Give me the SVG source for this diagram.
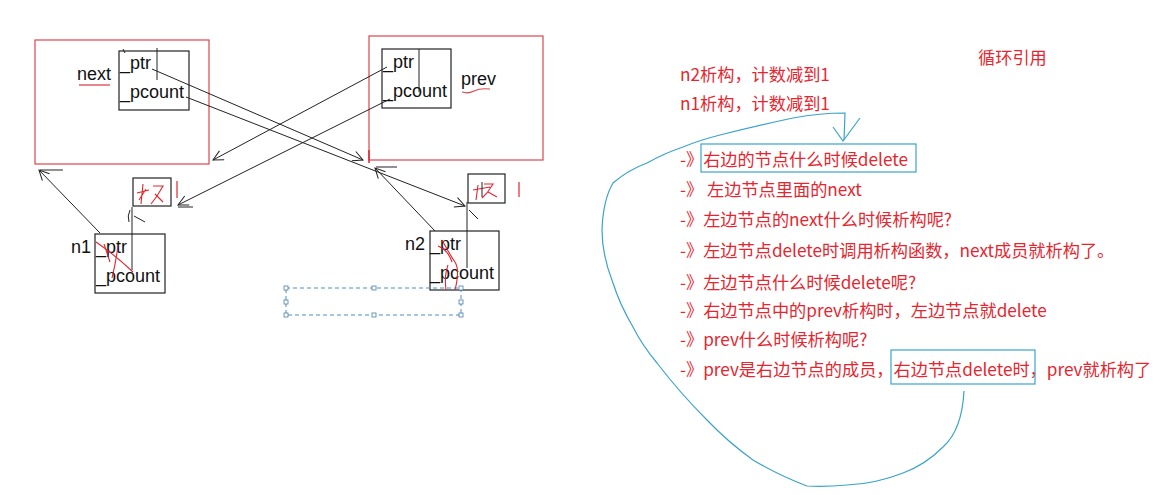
<svg xmlns="http://www.w3.org/2000/svg" width="1155" height="495" viewBox="0 0 1155 495">
<style>
.rb{fill:none;stroke:#d9464f;stroke-width:1.2}
.bb{fill:none;stroke:#222;stroke-width:1.2}
.lbl{font-family:"Liberation Sans",Arial,sans-serif;font-size:18px;fill:#111}
.ln{fill:none;stroke:#222;stroke-width:1}
.red{fill:none;stroke:#e0262f;stroke-width:1.1}
.txt{font-family:"Noto Sans CJK SC","Noto Sans",sans-serif;font-size:17.2px;fill:#e5262f}
.blue{fill:none;stroke:#3ba3c8;stroke-width:1.2}
.sel{fill:none;stroke:#4a90c0;stroke-width:1;stroke-dasharray:4 3}
.hd{fill:#fff;stroke:#4a7fa8;stroke-width:0.8}
</style>
<defs>
<marker id="ah" viewBox="0 0 12 12" refX="11" refY="6" markerWidth="12" markerHeight="12" markerUnits="userSpaceOnUse" orient="auto">
<path d="M1,1 L11,6 L1,11" fill="none" stroke="#222" stroke-width="1"/>
</marker>
</defs>
<rect width="1155" height="495" fill="#fff"/>

<g id="left-node">
<rect class="rb" x="35" y="40" width="174" height="124"/>
<rect class="bb" x="119" y="51" width="70" height="59"/>
<line class="ln" x1="157" y1="48" x2="157" y2="80"/>
<line class="ln" x1="123" y1="49" x2="125" y2="53"/>
<text class="lbl" x="120" y="69">_ptr</text>
<text class="lbl" x="120" y="98">_pcount</text>
<text class="lbl" x="77" y="80">next</text>
<path d="M79,85 L110,85" fill="none" stroke="#d9464f" stroke-width="1.3"/>
</g>

<g id="right-node">
<rect class="rb" x="369" y="36" width="174" height="124"/>
<line x1="369" y1="150" x2="369" y2="163" stroke="#e0262f" stroke-width="1.5"/>
<rect class="bb" x="382" y="49" width="69" height="59"/>
<line class="ln" x1="419" y1="49" x2="419" y2="92"/>
<text class="lbl" x="383" y="68">_ptr</text>
<text class="lbl" x="383" y="97">_pcount</text>
<text class="lbl" x="461" y="85">prev</text>
<path d="M462,92 Q468,94 474,91 T490,89" fill="none" stroke="#d9464f" stroke-width="1.2"/>
</g>

<g id="n1">
<rect class="bb" x="95" y="234" width="70" height="59"/>
<text class="lbl" x="71" y="253">n1</text>
<text class="lbl" x="96" y="253">_ptr</text>
<text class="lbl" x="96" y="282">_pcount</text>
<path class="red" d="M96,242 Q115,255 133,272"/>
<path class="red" d="M118,245 Q116,262 112,278"/>
<path class="red" d="M104,244 L110,262"/>
</g>

<g id="n1-count">
<rect class="bb" x="133" y="178" width="38" height="28"/>
<path class="red" d="M143,184 L141,204 M137,193 L149,190 M146,189 L139,200"/>
<path class="red" d="M153,186 L163,186 L157,196 L151,204 M155,194 L163,202"/>
<line x1="177" y1="181" x2="177" y2="198" stroke="#e0262f" stroke-width="1.2"/>
</g>

<g id="n2">
<rect class="bb" x="430" y="231" width="69" height="59"/>
<text class="lbl" x="405" y="250">n2</text>
<text class="lbl" x="430" y="250">_ptr</text>
<text class="lbl" x="430" y="279">_pcount</text>
<path class="red" d="M442,240 Q450,255 455,262 Q460,270 455,290"/>
<path class="red" d="M448,265 Q444,275 446,290"/>
<path class="red" d="M438,246 Q448,250 452,262"/>
</g>

<g id="n2-count">
<rect class="bb" x="468" y="174" width="37" height="29"/>
<path class="red" d="M473,190 L490,187 M478,185 L476,200 M484,184 L493,184 L487,193 L482,198 M488,192 L497,197"/>
<line x1="482" y1="182" x2="482" y2="197" stroke="#222" stroke-width="1"/>
<line x1="519" y1="182" x2="519" y2="197" stroke="#e0262f" stroke-width="1.2"/>
</g>

<g id="selection">
<rect class="sel" x="286" y="288" width="175" height="27"/>
<rect class="hd" x="284" y="286" width="4" height="4"/>
<rect class="hd" x="372" y="286" width="4" height="4"/>
<rect class="hd" x="459" y="286" width="4" height="4"/>
<rect class="hd" x="284" y="300" width="4" height="4"/>
<rect class="hd" x="459" y="300" width="4" height="4"/>
<rect class="hd" x="284" y="313" width="4" height="4"/>
<rect class="hd" x="372" y="313" width="4" height="4"/>
<rect class="hd" x="459" y="313" width="4" height="4"/>
</g>

<g id="connectors">
<line class="ln" x1="152" y1="69" x2="363" y2="160" marker-end="url(#ah)"/>
<line class="ln" x1="186" y1="97" x2="465" y2="206" marker-end="url(#ah)"/>
<line class="ln" x1="387" y1="67" x2="213" y2="160" marker-end="url(#ah)"/>
<line class="ln" x1="390" y1="99" x2="178" y2="205" marker-end="url(#ah)"/>
<line class="ln" x1="178" y1="207" x2="193" y2="207"/>
<line class="ln" x1="100" y1="233" x2="39" y2="170" marker-end="url(#ah)"/>
<line class="ln" x1="40" y1="170" x2="63" y2="170"/>
<line class="ln" x1="435" y1="231" x2="375" y2="168" marker-end="url(#ah)"/>
<line class="ln" x1="376" y1="167" x2="397" y2="167"/>
<line class="ln" x1="132" y1="270" x2="132" y2="207"/>
<path class="ln" d="M130,210 Q127,216 129,222 M134,216 L145,222"/>
<line class="ln" x1="467" y1="268" x2="467" y2="202"/>
<path class="ln" d="M469,210 L478,219"/>
</g>

<g id="notes">
<text class="txt" x="978" y="64">循环引用</text>
<text class="txt" x="680" y="81">n2析构，计数减到1</text>
<text class="txt" x="680" y="110">n1析构，计数减到1</text>
<rect class="blue" x="701" y="144" width="215" height="28"/>
<text class="txt" x="680" y="166">-》右边的节点什么时候delete</text>
<text class="txt" x="680" y="196">-》 左边节点里面的next</text>
<text class="txt" x="680" y="226">-》左边节点的next什么时候析构呢?</text>
<text class="txt" x="680" y="257">-》左边节点delete时调用析构函数，next成员就析构了。</text>
<text class="txt" x="680" y="289">-》左边节点什么时候delete呢?</text>
<text class="txt" x="680" y="317">-》右边节点中的prev析构时，左边节点就delete</text>
<text class="txt" x="680" y="346">-》prev什么时候析构呢?</text>
<text class="txt" x="680" y="376">-》prev是右边节点的成员，右边节点delete时，prev就析构了</text>
<rect class="blue" x="891" y="350" width="144" height="34"/>
<path class="blue" d="M964,391 Q962,430 943,447 Q925,465 903,473 Q875,484 847,485 Q825,487 807,486 Q780,476 753,460 Q728,442 707,420 Q680,393 657,363 Q642,345 633,327 Q620,305 613,283 Q602,255 602,230 Q603,200 613,183 Q628,170 647,163 Q665,153 683,147 Q700,140 720,135 Q760,125 793,118 Q820,113 845,113 L844,140"/>
<path class="blue" d="M833,127 L843,141 L860,118"/>
</g>
</svg>
